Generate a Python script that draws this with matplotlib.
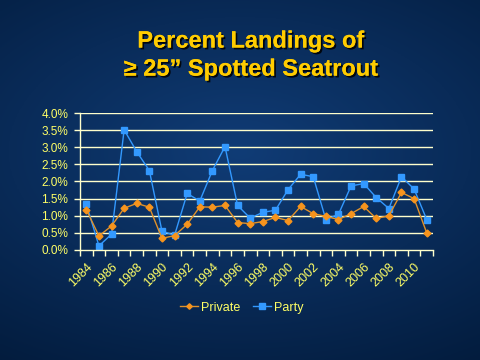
import numpy as np
import matplotlib
matplotlib.use("Agg")
import matplotlib.pyplot as plt
import matplotlib.patheffects as pe

years = list(range(1984, 2012))
private = [1.18, 0.41, 0.70, 1.22, 1.36, 1.25, 0.34, 0.42, 0.75, 1.26, 1.25, 1.30,
           0.80, 0.77, 0.83, 0.95, 0.86, 1.27, 1.06, 0.98, 0.89, 1.06, 1.27, 0.92,
           1.00, 1.68, 1.50, 0.50]
party = [1.34, 0.12, 0.46, 3.51, 2.87, 2.32, 0.55, 0.43, 1.65, 1.43, 2.32, 3.02,
         1.30, 0.93, 1.10, 1.16, 1.76, 2.21, 2.14, 0.89, 1.04, 1.87, 1.94, 1.53,
         1.21, 2.14, 1.78, 0.89]
yticks = [0.0, 0.5, 1.0, 1.5, 2.0, 2.5, 3.0, 3.5, 4.0]

fig = plt.figure(figsize=(4.8, 3.6), dpi=100)
# background gradient
bg = fig.add_axes([0, 0, 1, 1], zorder=-10)
yy, xx = np.mgrid[0:1:200j, 0:1:200j]
r = np.sqrt((xx - 0.5) ** 2 * 0.6 + (yy - 0.58) ** 2)
edge = np.array([0x02, 0x1a, 0x3a]) / 255
mid = np.array([0x10, 0x3c, 0x76]) / 255
t = np.clip(r / 0.75, 0, 1)[..., None]
img = mid * (1 - t) + edge * t
bg.imshow(img, extent=[0, 1, 0, 1], aspect='auto', origin='lower')
bg.axis('off')

shadow = [pe.withSimplePatchShadow(offset=(1.3, -1.3), shadow_rgbFace='black', alpha=0.85), pe.Normal()]
fig.text(0.523, 0.886, "Percent Landings of", ha='center', va='center', fontsize=17,
         fontweight='bold', color='#FFCC00', family='Liberation Sans', path_effects=shadow)
fig.text(0.523, 0.808, "\u2265 25\u201d Spotted Seatrout", ha='center', va='center', fontsize=17,
         fontweight='bold', color='#FFCC00', family='Liberation Sans', path_effects=shadow)

ax = fig.add_axes([0.1667, 0.3056, 0.7354, 0.3805])
ax.set_facecolor('none')
x = np.arange(len(years))
gc = '#FFFFCC'
for v in yticks[1:]:
    ax.axhline(v, color=gc, lw=1.0, zorder=1)
ax.plot(x, private, color='#E0922A', lw=1.0, marker='D', ms=3.5, mfc='#F7941D', mec='#F7941D',
        label='Private', zorder=3)
ax.plot(x, party, color='#3399FF', lw=1.0, marker='s', ms=5, mec='#3399FF', label='Party', zorder=2)
ax.set_xlim(-0.5, len(years) - 0.5)
ax.set_ylim(0, 4.0)
ax.set_yticks(yticks)
ax.set_yticklabels([f"{v:.1f}%" for v in yticks])
ax.set_xticks(np.arange(-0.5, len(years), 1.0))
ax.set_xticklabels([])
ax.set_xticks(x[::2], minor=True)
ax.set_xticklabels([str(y) for y in years[::2]], minor=True, rotation=45, ha='right',
                   rotation_mode='anchor')
ax.tick_params(axis='x', which='major', direction='out', length=4, color=gc, width=1)
ax.tick_params(axis='x', which='minor', length=0, pad=8, labelsize=9, labelcolor='#FFFF66')
ax.tick_params(axis='y', direction='out', length=4, color=gc, width=1, labelsize=8.5,
               labelcolor='#FFFF66', pad=4.5)
for s in ['top', 'right']:
    ax.spines[s].set_visible(False)
for s in ['left', 'bottom']:
    ax.spines[s].set_color(gc)
    ax.spines[s].set_linewidth(1.0)
for lab in ax.get_xticklabels(minor=True) + ax.get_yticklabels():
    lab.set_family('Liberation Sans')

leg = fig.legend(loc='center', bbox_to_anchor=(0.503, 0.145), ncol=2, frameon=False,
                 prop={'family': 'Liberation Sans', 'size': 9}, handlelength=1.5,
                 handletextpad=0.2, columnspacing=1.0, markerscale=0.8)
for t in leg.get_texts():
    t.set_color('#FFFF66')

fig.savefig('out.png', dpi=100)
